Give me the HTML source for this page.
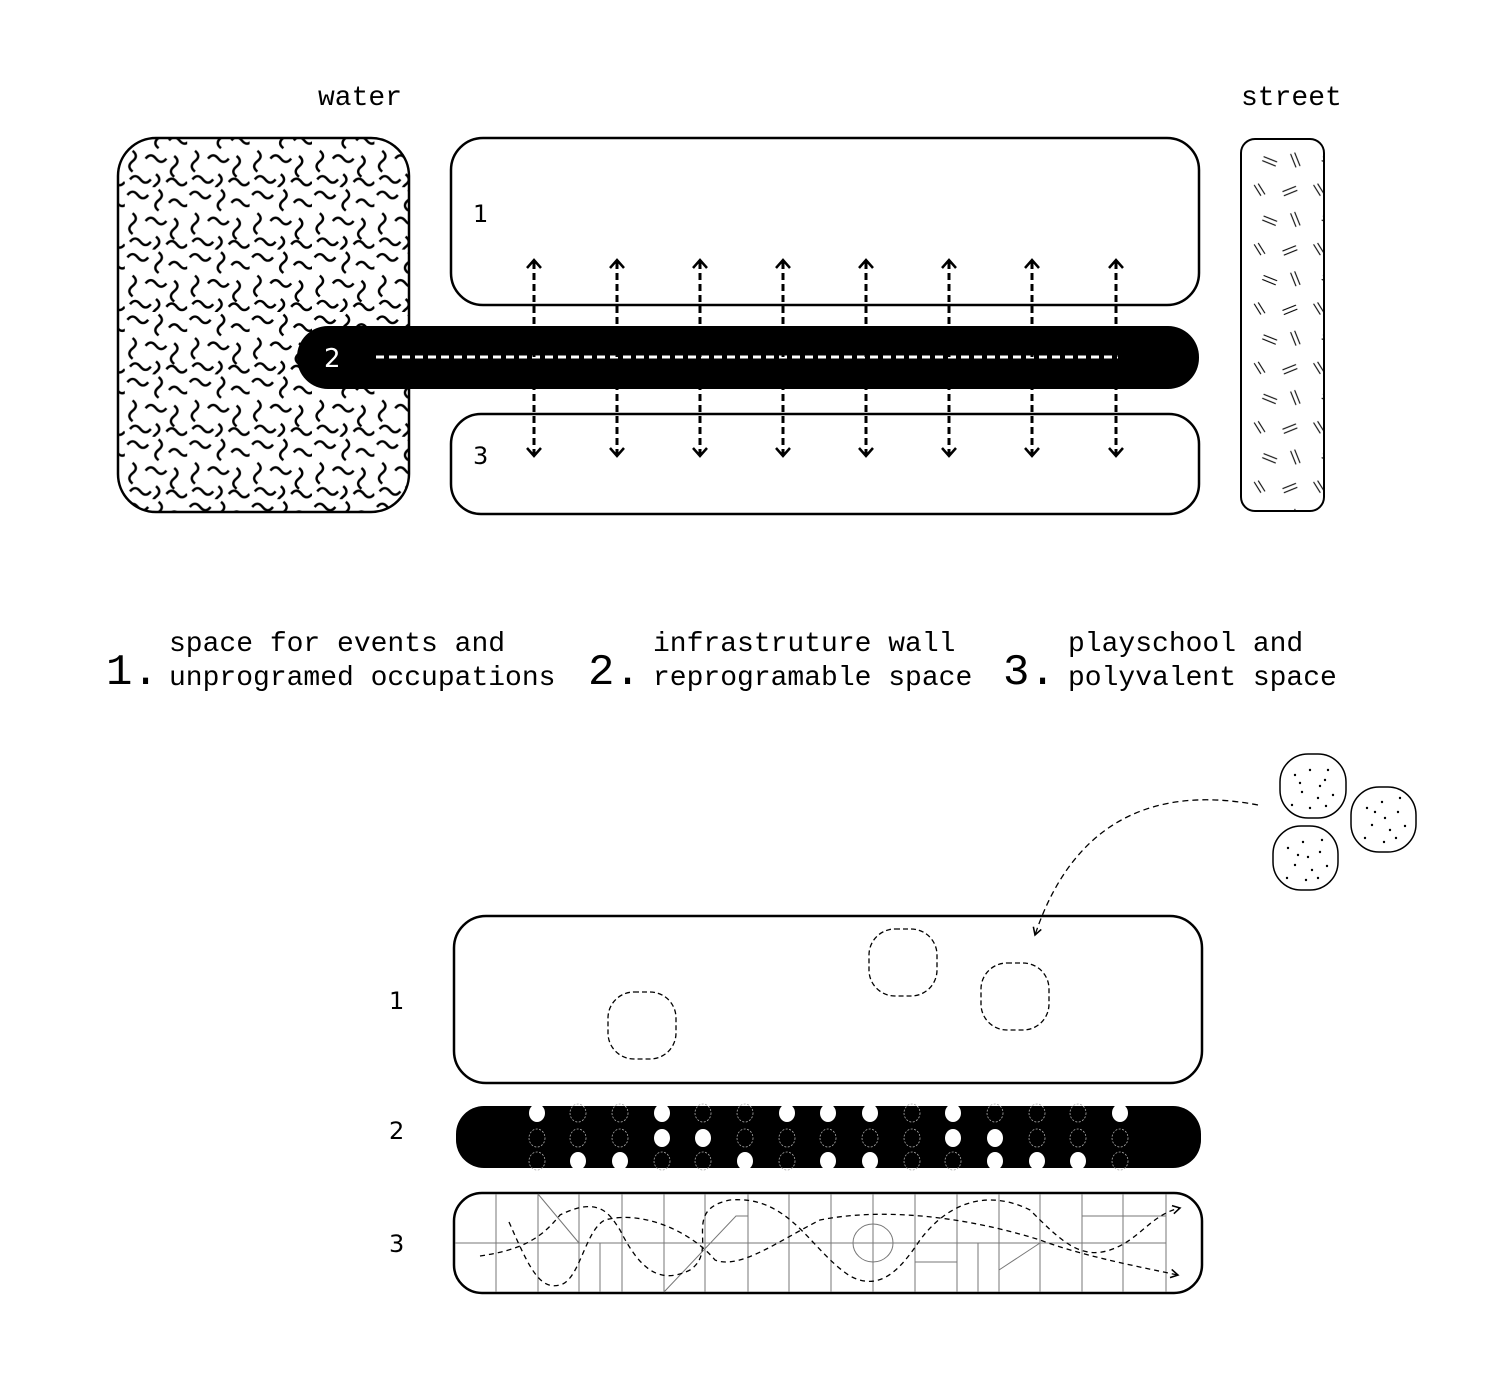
<!DOCTYPE html>
<html><head><meta charset="utf-8"><style>
html,body{margin:0;padding:0;background:#fff}
svg{display:block}
text{font-family:"Liberation Mono",monospace;fill:#000}
.ds{font-family:"DejaVu Sans",sans-serif}
</style></head><body>
<svg width="1500" height="1392" viewBox="0 0 1500 1392" xmlns="http://www.w3.org/2000/svg">
<defs>
<pattern id="sq" width="48" height="48" patternUnits="userSpaceOnUse" patternTransform="scale(1.3)">
<g fill="none" stroke="#000" stroke-width="1.9">
<path d="M2 6 q4 -5 8 0 t8 0"/>
<path d="M26 2 q5 4 0 8 t0 8"/>
<path d="M34 12 q4 -5 8 0 t8 0"/>
<path d="M6 20 q5 4 0 8 t0 8"/>
<path d="M16 26 q4 -5 8 0 t8 0"/>
<path d="M38 24 q5 4 0 8 t0 8"/>
<path d="M4 42 q4 -5 8 0 t8 0"/>
<path d="M24 38 q5 4 0 8 t0 8"/>
<path d="M32 44 q4 -5 8 0 t8 0"/>
</g></pattern>
<pattern id="st" width="44" height="44" patternUnits="userSpaceOnUse" patternTransform="scale(1.35)">
<g stroke="#000" stroke-width="0.8">
<path d="M5 5 l5 8 M8 4 l5 8"/>
<path d="M26 10 l10 -4 M27 13 l10 -4"/>
<path d="M12 28 l10 4 M11 31 l10 4"/>
<path d="M32 26 l4 10 M35 25 l4 10"/>
</g></pattern>
<marker id="ah" viewBox="0 0 10 10" refX="8" refY="5" markerWidth="8" markerHeight="8" orient="auto"><path d="M1 1 L8 5 L1 9" fill="none" stroke="#000" stroke-width="1.5"/></marker>
</defs>

<text x="318" y="105" font-size="28">water</text>
<text x="1241" y="105" font-size="28">street</text>

<rect x="118" y="138" width="291" height="374" rx="38" fill="url(#sq)" stroke="#000" stroke-width="2.5"/>
<rect x="1241" y="139" width="83" height="372" rx="14" fill="url(#st)" stroke="#000" stroke-width="2"/>

<rect x="451" y="138" width="748" height="167" rx="32" fill="#fff" stroke="#000" stroke-width="2.5"/>
<rect x="451" y="414" width="748" height="100" rx="30" fill="#fff" stroke="#000" stroke-width="2.5"/>
<text x="473" y="222" font-size="24" class="ds">1</text>
<text x="473" y="464" font-size="24" class="ds">3</text>

<rect x="297" y="326" width="902" height="63" rx="31" fill="#000"/>
<text x="324" y="367" font-size="26" class="ds" style="fill:#fff">2</text>
<line x1="376" y1="357" x2="1118" y2="357" stroke="#fff" stroke-width="3" stroke-dasharray="8 5"/>

<g stroke="#000" stroke-width="3" stroke-dasharray="7 4" fill="none">
<line x1="534" y1="262" x2="534" y2="454"/><line x1="617" y1="262" x2="617" y2="454"/>
<line x1="700" y1="262" x2="700" y2="454"/><line x1="783" y1="262" x2="783" y2="454"/>
<line x1="866" y1="262" x2="866" y2="454"/><line x1="949" y1="262" x2="949" y2="454"/>
<line x1="1032" y1="262" x2="1032" y2="454"/><line x1="1116" y1="262" x2="1116" y2="454"/>
</g>
<g stroke="#000" stroke-width="2.5" fill="none">
<path d="M527 268 l7 -8 l7 8 M527 448 l7 8 l7 -8"/>
<path d="M610 268 l7 -8 l7 8 M610 448 l7 8 l7 -8"/>
<path d="M693 268 l7 -8 l7 8 M693 448 l7 8 l7 -8"/>
<path d="M776 268 l7 -8 l7 8 M776 448 l7 8 l7 -8"/>
<path d="M859 268 l7 -8 l7 8 M859 448 l7 8 l7 -8"/>
<path d="M942 268 l7 -8 l7 8 M942 448 l7 8 l7 -8"/>
<path d="M1025 268 l7 -8 l7 8 M1025 448 l7 8 l7 -8"/>
<path d="M1109 268 l7 -8 l7 8 M1109 448 l7 8 l7 -8"/>
</g>

<text x="106" y="684" font-size="44">1.</text>
<text x="169" y="651" font-size="28">space for events and</text>
<text x="169" y="685" font-size="28">unprogramed occupations</text>
<text x="588" y="684" font-size="44">2.</text>
<text x="653" y="651" font-size="28">infrastruture wall</text>
<text x="653" y="685" font-size="28">reprogramable space</text>
<text x="1003" y="684" font-size="44">3.</text>
<text x="1068" y="651" font-size="28">playschool and</text>
<text x="1068" y="685" font-size="28">polyvalent space</text>

<!-- pebbles -->
<g fill="#fff" stroke="#000" stroke-width="1.5">
<rect x="1280" y="754" width="66" height="64" rx="28"/>
<rect x="1351" y="787" width="65" height="65" rx="28"/>
<rect x="1273" y="826" width="65" height="64" rx="28"/>
</g>
<g fill="#000">
<circle cx="1295" cy="775" r="1.2"/><circle cx="1310" cy="770" r="1.2"/><circle cx="1325" cy="780" r="1.2"/><circle cx="1302" cy="792" r="1.2"/><circle cx="1318" cy="798" r="1.2"/><circle cx="1333" cy="795" r="1.2"/><circle cx="1292" cy="805" r="1.2"/><circle cx="1310" cy="808" r="1.2"/><circle cx="1328" cy="770" r="1.2"/><circle cx="1320" cy="786" r="1.2"/><circle cx="1300" cy="783" r="1.2"/><circle cx="1326" cy="806" r="1.2"/>
<circle cx="1367" cy="808" r="1.2"/><circle cx="1382" cy="802" r="1.2"/><circle cx="1398" cy="812" r="1.2"/><circle cx="1372" cy="825" r="1.2"/><circle cx="1390" cy="830" r="1.2"/><circle cx="1405" cy="826" r="1.2"/><circle cx="1365" cy="838" r="1.2"/><circle cx="1384" cy="842" r="1.2"/><circle cx="1400" cy="798" r="1.2"/><circle cx="1385" cy="818" r="1.2"/><circle cx="1375" cy="812" r="1.2"/><circle cx="1396" cy="838" r="1.2"/>
<circle cx="1288" cy="848" r="1.2"/><circle cx="1303" cy="842" r="1.2"/><circle cx="1320" cy="852" r="1.2"/><circle cx="1295" cy="865" r="1.2"/><circle cx="1312" cy="870" r="1.2"/><circle cx="1327" cy="866" r="1.2"/><circle cx="1287" cy="878" r="1.2"/><circle cx="1306" cy="880" r="1.2"/><circle cx="1322" cy="840" r="1.2"/><circle cx="1308" cy="857" r="1.2"/><circle cx="1298" cy="855" r="1.2"/><circle cx="1318" cy="878" r="1.2"/>
</g>

<text x="389" y="1009" font-size="24" class="ds">1</text>
<text x="389" y="1139" font-size="24" class="ds">2</text>
<text x="389" y="1252" font-size="24" class="ds">3</text>

<rect x="454" y="916" width="748" height="167" rx="32" fill="#fff" stroke="#000" stroke-width="2.5"/>
<path d="M1258 805 C1180 790 1080 800 1035 935" fill="none" stroke="#000" stroke-width="1.3" stroke-dasharray="6 4" marker-end="url(#ah)"/>
<g fill="none" stroke="#000" stroke-width="1.3" stroke-dasharray="5 3">
<rect x="608" y="992" width="68" height="67" rx="26"/>
<rect x="869" y="929" width="68" height="67" rx="26"/>
<rect x="981" y="963" width="68" height="67" rx="26"/>
</g>

<rect x="456" y="1106" width="745" height="62" rx="28" fill="#000"/>
<g fill="#fff">
<ellipse cx="537" cy="1113" rx="8" ry="9"/><ellipse cx="662" cy="1113" rx="8" ry="9"/><ellipse cx="787" cy="1113" rx="8" ry="9"/><ellipse cx="828" cy="1113" rx="8" ry="9"/><ellipse cx="870" cy="1113" rx="8" ry="9"/><ellipse cx="953" cy="1113" rx="8" ry="9"/><ellipse cx="1120" cy="1113" rx="8" ry="9"/>
<ellipse cx="662" cy="1138" rx="8" ry="9"/><ellipse cx="703" cy="1138" rx="8" ry="9"/><ellipse cx="953" cy="1138" rx="8" ry="9"/><ellipse cx="995" cy="1138" rx="8" ry="9"/>
<ellipse cx="578" cy="1161" rx="8" ry="9"/><ellipse cx="620" cy="1161" rx="8" ry="9"/><ellipse cx="745" cy="1161" rx="8" ry="9"/><ellipse cx="828" cy="1161" rx="8" ry="9"/><ellipse cx="870" cy="1161" rx="8" ry="9"/><ellipse cx="995" cy="1161" rx="8" ry="9"/><ellipse cx="1037" cy="1161" rx="8" ry="9"/><ellipse cx="1078" cy="1161" rx="8" ry="9"/>
</g>
<g fill="none" stroke="#aaa" stroke-width="0.8" stroke-dasharray="2 1.5">
<ellipse cx="578" cy="1113" rx="8" ry="9"/><ellipse cx="620" cy="1113" rx="8" ry="9"/><ellipse cx="703" cy="1113" rx="8" ry="9"/><ellipse cx="745" cy="1113" rx="8" ry="9"/><ellipse cx="912" cy="1113" rx="8" ry="9"/><ellipse cx="995" cy="1113" rx="8" ry="9"/><ellipse cx="1037" cy="1113" rx="8" ry="9"/><ellipse cx="1078" cy="1113" rx="8" ry="9"/>
<ellipse cx="537" cy="1138" rx="8" ry="9"/><ellipse cx="578" cy="1138" rx="8" ry="9"/><ellipse cx="620" cy="1138" rx="8" ry="9"/><ellipse cx="745" cy="1138" rx="8" ry="9"/><ellipse cx="787" cy="1138" rx="8" ry="9"/><ellipse cx="828" cy="1138" rx="8" ry="9"/><ellipse cx="870" cy="1138" rx="8" ry="9"/><ellipse cx="912" cy="1138" rx="8" ry="9"/><ellipse cx="1037" cy="1138" rx="8" ry="9"/><ellipse cx="1078" cy="1138" rx="8" ry="9"/><ellipse cx="1120" cy="1138" rx="8" ry="9"/>
<ellipse cx="537" cy="1161" rx="8" ry="9"/><ellipse cx="662" cy="1161" rx="8" ry="9"/><ellipse cx="703" cy="1161" rx="8" ry="9"/><ellipse cx="787" cy="1161" rx="8" ry="9"/><ellipse cx="912" cy="1161" rx="8" ry="9"/><ellipse cx="953" cy="1161" rx="8" ry="9"/><ellipse cx="1120" cy="1161" rx="8" ry="9"/>
</g>

<rect x="454" y="1193" width="748" height="100" rx="28" fill="#fff" stroke="#000" stroke-width="2.5"/>
<g stroke="#777" stroke-width="1" fill="none">
<path d="M496 1194V1292 M538 1194V1292 M579 1194V1292 M600 1243V1292 M622 1194V1292 M664 1194V1292 M705 1194V1292 M748 1194V1292 M789 1194V1292 M831 1194V1292 M873 1194V1292 M915 1194V1292 M957 1194V1292 M978 1243V1292 M999 1194V1292 M1040 1194V1292 M1082 1194V1292 M1123 1194V1292 M1166 1194V1292"/>
<path d="M455 1243H1166"/>
<path d="M538 1194 L579 1243 M664 1292 L736 1216 H748 M999 1270 L1040 1243 M1082 1216 H1166 M915 1262 H957"/>
<ellipse cx="873" cy="1243" rx="20" ry="19"/>
</g>
<g fill="none" stroke="#000" stroke-width="1.3" stroke-dasharray="5 4">
<path d="M480 1256 C520 1250 540 1240 560 1215 C600 1195 610 1215 620 1230 C640 1270 660 1285 690 1270 C720 1250 680 1210 730 1200 C790 1195 810 1250 850 1276 C880 1292 900 1270 920 1240 C950 1200 990 1190 1030 1210 C1060 1240 1080 1260 1110 1250 C1140 1240 1150 1215 1180 1208" marker-end="url(#ah)"/>
<path d="M509 1222 C530 1270 540 1290 560 1285 C580 1280 585 1230 605 1220 C640 1210 690 1230 715 1260 C740 1270 780 1240 820 1220 C880 1208 960 1215 1040 1240 C1080 1255 1130 1265 1178 1275" marker-end="url(#ah)"/>
</g>
</svg>
</body></html>
